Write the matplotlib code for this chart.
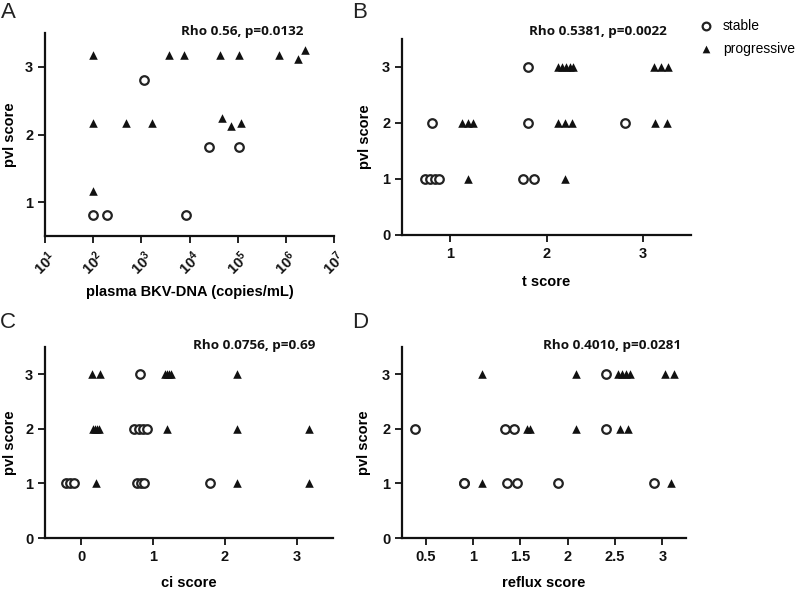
import matplotlib.pyplot as plt

# panel A : plasma BKV-DNA vs pvl score
A_stable_x = [100, 195, 1120, 8500, 26000, 105000]
A_stable_y = [0.81, 0.81, 2.80, 0.81, 1.81, 1.81]
A_prog_x = [100, 100, 100, 480, 1700, 3700, 7800, 43000, 47000, 72000,
            105000, 118000, 720000, 1780000, 2450000]
A_prog_y = [3.17, 2.17, 1.17, 2.17, 2.17, 3.17, 3.17, 3.17, 2.24, 2.12,
            3.17, 2.17, 3.17, 3.11, 3.25]

# panel B : t score
B_stable_x = [0.74, 0.79, 0.84, 0.88, 0.81, 1.81, 1.81, 1.76, 1.87, 2.81]
B_stable_y = [1, 1, 1, 1, 2, 3, 2, 1, 1, 2]
B_prog_x = [1.19, 1.12, 1.18, 1.24, 2.12, 2.16, 2.20, 2.24, 2.28,
            2.12, 2.19, 2.26, 2.19, 3.12, 3.19, 3.26, 3.13, 3.25]
B_prog_y = [1, 2, 2, 2, 3, 3, 3, 3, 3,
            2, 2, 2, 1, 3, 3, 3, 2, 2]

# panel C : ci score
C_stable_x = [-0.21, -0.15, -0.10, 0.78, 0.83, 0.88, 0.74, 0.80, 0.86, 0.92, 0.82, 1.79]
C_stable_y = [1, 1, 1, 1, 1, 1, 2, 2, 2, 2, 3, 1]
C_prog_x = [0.15, 0.27, 0.16, 0.19, 0.22, 0.25, 0.21, 1.16, 1.19, 1.22, 1.25,
            1.19, 2.16, 2.16, 2.16, 3.16, 3.16]
C_prog_y = [3, 3, 2, 2, 2, 2, 1, 3, 3, 3, 3,
            2, 3, 2, 1, 2, 1]

# panel D : reflux score
D_stable_x = [0.39, 0.90, 0.91, 1.34, 1.43, 1.36, 1.46, 1.90, 2.40, 2.40, 2.91]
D_stable_y = [2, 1, 1, 2, 2, 1, 1, 1, 3, 2, 1]
D_prog_x = [1.09, 1.09, 1.57, 1.60, 2.09, 2.09, 2.53, 2.57, 2.62, 2.66,
            2.55, 2.64, 3.03, 3.12, 3.09]
D_prog_y = [3, 1, 2, 2, 3, 2, 3, 3, 3, 3,
            2, 2, 3, 3, 1]

rho_txt = ["Rho 0.56, p=0.0132", "Rho 0.5381, p=0.0022",
           "Rho 0.0756, p=0.69", "Rho 0.4010, p=0.0281"]
xlabels = ["plasma BKV-DNA (copies/mL)", "t score", "ci score", "reflux score"]
letters = ["A", "B", "C", "D"]

plt.rcParams['font.family'] = 'Liberation Sans'
plt.rcParams['mathtext.fontset'] = 'custom'
plt.rcParams['mathtext.rm'] = 'Liberation Sans:bold'
plt.rcParams['mathtext.bf'] = 'Liberation Sans:bold'
plt.rcParams['mathtext.default'] = 'bf'

fig = plt.figure(figsize=(8, 5.91), dpi=100)
W, H = 800., 591.

def px_axes(l, t, r, b):
    return fig.add_axes([l/W, 1-b/H, (r-l)/W, (b-t)/H])

axA = px_axes(45, 33, 334, 236)
axB = px_axes(402, 39, 691, 235)
axC = px_axes(45, 347, 333, 538)
axD = px_axes(402, 347, 686, 538)
axes = [axA, axB, axC, axD]
data = [(A_stable_x, A_stable_y, A_prog_x, A_prog_y),
        (B_stable_x, B_stable_y, B_prog_x, B_prog_y),
        (C_stable_x, C_stable_y, C_prog_x, C_prog_y),
        (D_stable_x, D_stable_y, D_prog_x, D_prog_y)]

# label positions in axes coords (ylabel x, xlabel y)
ylab_x = [-0.121, -0.128, -0.122, -0.134]
xlab_y = [-0.276, -0.24, -0.236, -0.236]

for k, (ax, (sx, sy, px, py), xl) in enumerate(zip(axes, data, xlabels)):
    ax.scatter(sx, sy, s=38, facecolors='white', edgecolors='#222222',
               linewidths=1.6, marker='o', label='stable', zorder=3)
    ax.scatter(px, py, s=38, c='#111111', marker='^', linewidths=0,
               label='progressive', zorder=3)
    for sp in ['top', 'right']:
        ax.spines[sp].set_visible(False)
    for sp in ['left', 'bottom']:
        ax.spines[sp].set_linewidth(1.6)
        ax.spines[sp].set_color('#111111')
    ax.tick_params(direction='out', length=5, width=1.3, labelsize=10.5,
                   colors='#111111')
    ax.set_ylabel("pvl score", fontsize=10.5, fontweight='bold', va='center')
    ax.set_xlabel(xl, fontsize=10.5, fontweight='bold', va='center')
    ax.yaxis.set_label_coords(ylab_x[k], 0.5)
    ax.xaxis.set_label_coords(0.5, xlab_y[k])

# panel A log axis
axA.set_xscale('log')
axA.set_xlim(10, 1e7)
axA.set_ylim(0.5, 3.5)
axA.set_yticks([1, 2, 3])
axA.set_xticks([10**k for k in range(1, 8)])
axA.set_xticklabels([r'$10^{%d}$' % k for k in range(1, 8)], rotation=45,
                    fontsize=10.5)
axA.tick_params(axis='x', which='minor', direction='out', length=4, width=1.1)

axB.set_xlim(0.5, 3.5)
axB.set_ylim(0, 3.5)
axB.set_xticks([1, 2, 3])
axB.set_yticks([0, 1, 2, 3])

axC.set_xlim(-0.5, 3.5)
axC.set_ylim(0, 3.5)
axC.set_xticks([0, 1, 2, 3])
axC.set_yticks([0, 1, 2, 3])

axD.set_xlim(0.25, 3.25)
axD.set_ylim(0, 3.5)
axD.set_xticks([0.5, 1, 1.5, 2, 2.5, 3])
axD.set_xticklabels(['0.5', '1', '1.5', '2', '2.5', '3'])
axD.set_yticks([0, 1, 2, 3])

for ax in axes:
    for lab in ax.get_xticklabels() + ax.get_yticklabels():
        lab.set_fontweight('bold')

# correlation texts
rho_pos = [(242, 32), (598, 32), (254, 345), (612, 345)]
for (x, y), t in zip(rho_pos, rho_txt):
    fig.text(x/W, 1-y/H, t, ha='center', va='center', fontsize=9.7,
             fontweight='bold', family='Open Sans', color='#111111')

# panel letters
let_pos = [(8, 12), (360, 12), (8, 322), (360, 322)]
for (x, y), t in zip(let_pos, letters):
    fig.text(x/W, 1-y/H, t, ha='center', va='center', fontsize=16,
             color='#222222')

handles, labels = axB.get_legend_handles_labels()
fig.legend(handles, labels, loc='upper left', bbox_to_anchor=(698/W, 1-19/H),
           frameon=False, fontsize=10, handletextpad=0.6, handlelength=1.2,
           labelspacing=0.65, borderaxespad=0, borderpad=0, markerscale=0.9)

plt.savefig("out.png", dpi=100)
plt.close()
